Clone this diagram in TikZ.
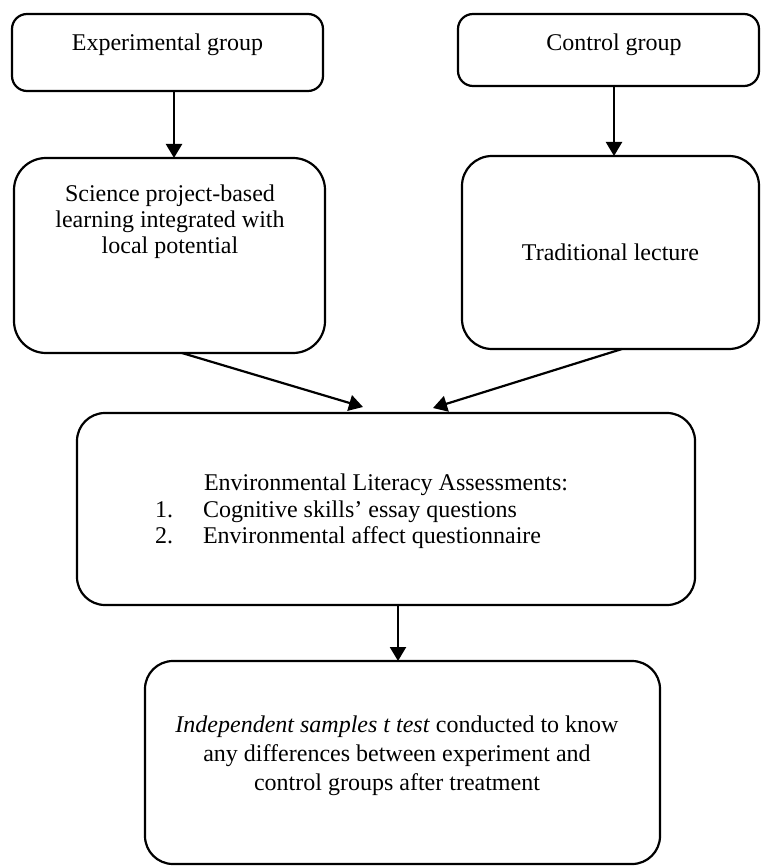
\documentclass[tikz,border=0pt]{standalone}
\usepackage{fontspec}
\setmainfont{Liberation Serif}
\usetikzlibrary{arrows.meta}
\begin{document}
\begin{tikzpicture}[x=0.5pt,y=-0.5pt,
  every node/.style={font=\fontsize{12pt}{13.3pt}\selectfont, inner sep=0pt, outer sep=0pt},
  box/.style={draw, line width=1.1pt},
  arr/.style={line width=1.1pt, -{Triangle[length=7pt,width=8pt]}},
  lbl/.style={align=center}]
\useasboundingbox (0,0) rectangle (761,866);
% boxes
\node[box, rounded corners=7.5pt, minimum width=155.5pt, minimum height=38.5pt] (b1) at (167.5,52.5) {};
\node[box, rounded corners=7.5pt, minimum width=150.5pt, minimum height=36pt] (b2) at (608.5,50) {};
\node[box, rounded corners=16pt, minimum width=155.5pt, minimum height=97.5pt] (b3) at (169.5,255.5) {};
\node[box, rounded corners=15pt, minimum width=148.5pt, minimum height=96.5pt] (b4) at (610.5,252.5) {Traditional lecture};
\node[box, rounded corners=14pt, minimum width=309pt, minimum height=96pt] (b5) at (386,509) {};
\node[box, rounded corners=14pt, minimum width=257.5pt, minimum height=101.5pt] (b6) at (402.5,762.5) {};
% texts
\node (t1) at (167.5,45) {Experimental group};
\node (t2) at (614,45) {Control group};
\node[lbl, font=\fontsize{12pt}{13pt}\selectfont] (t3) at (170,222) {Science project-based\\learning integrated with\\local potential};
\node (t5a) at (386,485) {Environmental Literacy Assessments:};
\node[anchor=west] (t5b) at (155,525) {\begin{tabular}{@{}p{24pt}@{}l@{}}1. & Cognitive skills’ essay questions\\2. & Environmental affect questionnaire\end{tabular}};
\node[lbl, font=\fontsize{12pt}{14.5pt}\selectfont] (t6) at (397,756) {\textit{Independent samples t test} conducted to know\\any differences between experiment and\\control groups after treatment};
% connector helpers
\coordinate (c1) at (174,0);
\coordinate (c2) at (614,0);
\coordinate (c3) at (182,0);
\coordinate (e3) at (363,407);
\coordinate (c4) at (622,0);
\coordinate (e4) at (433,408);
\coordinate (c5) at (398,0);
% connectors
\draw[arr] (b1.south -| c1) -- (b3.north -| c1);
\draw[arr] (b2.south -| c2) -- (b4.north -| c2);
\draw[arr] (b3.south -| c3) -- (e3);
\draw[arr] (b4.south -| c4) -- (e4);
\draw[arr] (b5.south -| c5) -- (b6.north -| c5);
\end{tikzpicture}
\end{document}
